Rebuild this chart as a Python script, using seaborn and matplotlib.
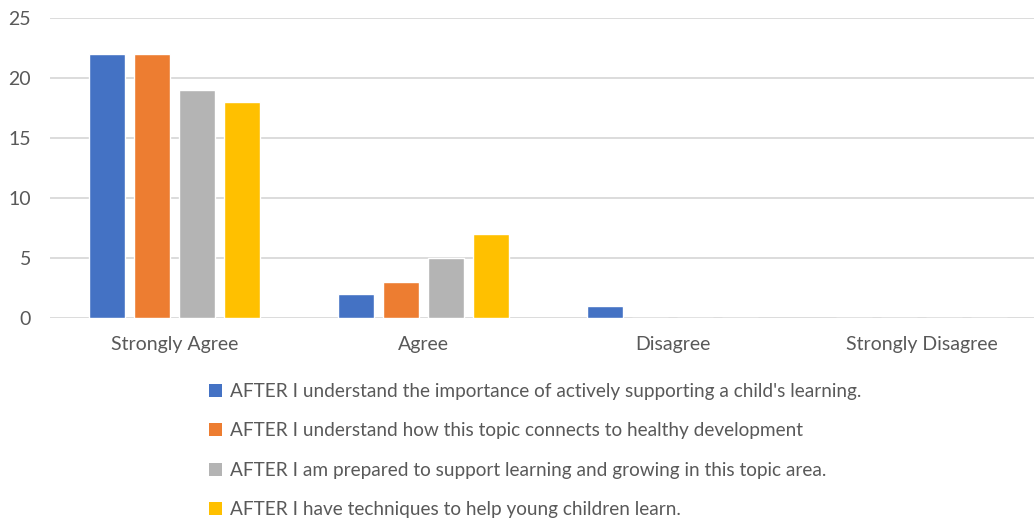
import matplotlib
matplotlib.use("Agg")
import matplotlib.pyplot as plt
import seaborn as sns
import pandas as pd
from matplotlib.patches import Patch

categories = ["Strongly Agree", "Agree", "Disagree", "Strongly Disagree"]
series_names = [
    "AFTER I understand the importance of actively supporting a child's learning.",
    "AFTER I understand how this topic connects to healthy development",
    "AFTER I am prepared to support learning and growing in this topic area.",
    "AFTER I have techniques to help young children learn.",
]
s1 = [22, 2, 1, 0]
s2 = [22, 3, 0, 0]
s3 = [19, 5, 0, 0]
s4 = [18, 7, 0, 0]
colors = ["#4472C4", "#ED7D31", "#B4B4B4", "#FFC000"]
yticks = [0, 5, 10, 15, 20, 25]

rows = []
for name, vals in zip(series_names, [s1, s2, s3, s4]):
    for c, v in zip(categories, vals):
        rows.append({"cat": c, "series": name, "value": v})
df = pd.DataFrame(rows)

sns.set_theme(style="white")
plt.rcParams["font.family"] = ["Lato", "DejaVu Sans"]
txt = "#595959"

fig = plt.figure(figsize=(10.34, 5.19), dpi=100)
ax = fig.add_axes([50 / 1034, 1 - 318 / 519, 996 / 1034, 300 / 519])

sns.barplot(data=df, x="cat", y="value", hue="series", order=categories,
            hue_order=series_names, palette=colors, width=0.723, gap=0.22,
            saturation=1, ax=ax, legend=False, zorder=3)

ax.set_ylim(0, 25)
ax.set_xlim(-0.5, 3.5)
ax.set_yticks(yticks)
ax.set_yticklabels([str(t) for t in yticks], fontsize=14, color=txt)
ax.set_xticklabels(categories, fontsize=14, color=txt)
ax.tick_params(axis="y", length=0, pad=13.5)
ax.tick_params(axis="x", length=0, pad=13)
ax.set_xlabel("")
ax.set_ylabel("")
ax.yaxis.grid(True, color="#D9D9D9", linewidth=1.3, zorder=0)
ax.set_axisbelow(True)
for s in ax.spines.values():
    s.set_visible(False)

handles = [Patch(facecolor=c, edgecolor="none") for c in colors]
fig.legend(handles, series_names, loc="upper left",
           bbox_to_anchor=(209 / 1034, 1 - 383 / 519), frameon=False,
           fontsize=13.7, labelcolor=txt, handlelength=0.68, handleheight=0.68,
           handletextpad=0.4, labelspacing=1.18, borderaxespad=0, borderpad=0)

fig.savefig("out.png", dpi=100)
